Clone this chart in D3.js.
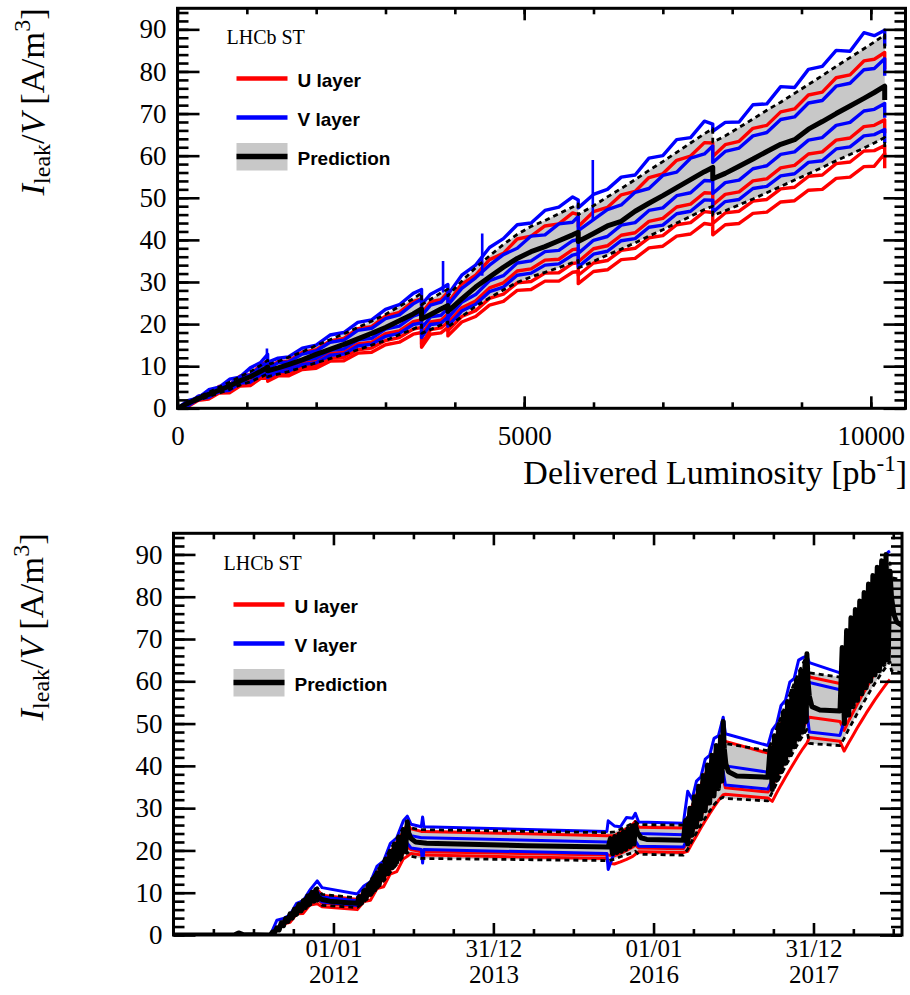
<!DOCTYPE html>
<html><head><meta charset="utf-8">
<script src="https://cdn.jsdelivr.net/npm/d3@7"></script>
<style>body{margin:0;background:#fff}svg{display:block}</style>
</head><body>
<script>
// ===================== DATA =====================
// ---- top panel: versus delivered luminosity [pb^-1]
const lumi = [0,150,300,450,600,750,900,1050,1200,1300,
  1300,1450,1600,1800,2000,2200,2400,2600,2800,3000,
  3200,3400,3520,3520,3650,3800,3900,3900,4100,4300,
  4500,4700,4900,5100,5300,5500,5700,5780,5780,6000,
  6200,6400,6600,6800,7000,7200,7400,7600,7720,7720,
  7900,8100,8300,8500,8700,8900,9100,9300,9500,9700,
  9900,10050,10200,10200];
const predCentralLumi = [0,1.2,2.3,3.3,4.3,5.3,6.5,7.5,8.8,9.8,
  8.9,9.6,10.4,11.5,12.8,14.0,15.2,16.5,17.8,19.2,
  20.8,22.4,23.6,21.2,22.3,23.6,24.4,23.0,26.0,28.8,
  31.2,33.5,35.6,37.2,38.4,39.8,41.2,41.8,39.6,41.5,
  43.3,44.4,46.8,48.7,50.5,52.4,54.3,56.2,57.2,54.5,
  55.8,57.5,59.2,61.0,62.7,63.8,66.3,68.1,70.0,71.8,
  73.6,75.0,76.5,73.2];
const predUpperLumi = [0,1.4,2.7,3.8,5.0,6.2,7.5,8.7,10.2,11.4,
  10.4,11.1,12.1,13.4,14.9,16.3,17.7,19.2,20.7,22.3,
  24.2,26.0,27.4,24.6,25.9,27.4,28.3,26.7,30.2,33.4,
  36.2,38.9,41.3,43.2,44.6,46.2,47.8,48.5,46.0,48.1,
  50.2,52.2,54.3,56.5,58.6,60.8,63.0,65.2,66.4,63.2,
  64.7,66.7,68.7,70.8,72.7,74.8,76.9,79.0,81.2,83.3,
  85.4,87.0,88.7,85.0];
const predLowerLumi = [0,1.0,1.9,2.8,3.6,4.5,5.5,6.3,7.4,8.2,
  7.5,8.1,8.7,9.7,10.8,11.8,12.8,13.9,15.0,16.1,
  17.5,18.8,19.8,17.8,18.7,19.8,20.5,19.3,21.8,24.2,
  26.2,28.1,29.9,31.2,32.3,33.4,34.6,35.1,33.3,34.9,
  36.4,37.8,39.3,40.9,42.4,44.0,45.6,47.2,48.0,45.8,
  46.9,48.3,49.7,51.2,52.7,54.2,55.7,57.2,58.8,60.3,
  61.8,63.0,64.3,61.8];
const vLayer1Lumi = [0,1.8,2.5,4.4,5.0,6.9,7.4,9.6,10.9,12.8,
  10.9,11.9,12.2,14.3,15.0,17.4,18.0,20.4,21.0,23.5,
  24.6,27.3,28.2,24.6,27.1,28.4,29.4,27.0,31.6,34.0,
  38.2,40.3,43.6,44.0,47.0,47.8,50.2,49.5,47.6,50.8,
  52.0,54.9,55.4,59.4,60.0,63.8,64.3,68.2,67.5,65.8,
  67.9,68.0,72.1,72.3,76.4,76.2,80.5,81.2,85.0,84.8,
  89.2,88.5,89.8,86.0];
const vLayer2Lumi = [0,1.1,2.9,3.4,5.0,5.5,7.5,7.9,10.0,11.0,
  9.4,10.8,11.0,12.9,13.6,15.7,16.2,18.5,19.0,21.3,
  22.2,24.8,25.9,22.0,24.5,25.2,26.9,24.5,28.5,31.0,
  34.0,36.5,38.0,40.9,41.2,43.8,44.2,45.6,42.2,44.8,
  47.2,48.3,51.3,52.2,55.3,56.1,59.4,60.4,62.3,58.4,
  61.0,61.8,64.7,65.5,68.6,69.2,72.5,73.1,76.5,77.2,
  80.4,80.7,83.0,79.0];
const vLayer3Lumi = [0,1.3,2.0,3.5,3.9,5.5,6.0,7.6,8.1,9.8,
  8.0,9.5,9.6,11.4,11.9,13.8,14.1,16.2,16.6,18.8,
  19.5,21.9,22.6,19.0,21.7,22.1,23.7,21.4,25.2,27.0,
  30.3,31.5,34.5,35.0,37.2,37.5,39.8,40.1,36.8,39.9,
  40.8,43.5,44.1,47.0,47.6,50.5,51.2,54.1,54.0,51.0,
  53.6,54.2,56.9,57.6,60.3,60.9,63.7,64.3,67.2,67.9,
  70.6,71.0,72.4,69.0];
const vLayer4Lumi = [0,0.6,2.2,2.6,4.0,4.3,6.0,6.2,8.0,8.2,
  7.3,8.7,8.8,10.4,10.8,12.6,12.9,14.8,15.2,17.1,
  17.8,19.9,20.3,16.8,19.9,20.2,21.7,19.5,23.1,24.7,
  27.7,28.8,31.6,32.1,34.0,34.3,36.4,36.7,33.6,36.6,
  37.3,39.8,40.3,43.0,43.5,46.2,46.8,49.5,49.4,46.6,
  49.1,49.6,52.2,52.7,55.2,55.7,58.4,58.8,61.6,62.1,
  64.7,65.0,66.2,63.0];
const uLayer1Lumi = [0,1.0,2.8,3.4,5.2,5.6,7.6,8.0,10.3,11.2,
  9.5,11.1,11.2,13.3,13.9,16.0,16.6,18.9,19.4,21.9,
  22.8,25.4,26.0,22.5,25.3,25.8,27.6,25.0,29.5,31.6,
  35.3,36.8,40.2,40.9,43.3,43.8,46.4,46.0,43.2,46.7,
  47.7,50.7,51.5,54.8,55.7,58.9,59.9,63.1,63.0,59.8,
  62.6,63.4,66.5,67.2,70.4,71.1,74.4,75.1,78.5,79.2,
  82.5,82.9,84.5,80.5];
const uLayer2Lumi = [0,0.8,2.3,2.7,4.2,4.5,6.2,6.4,8.3,8.5,
  7.6,9.0,9.1,10.8,11.2,13.0,13.3,15.3,15.7,17.7,
  18.4,20.6,21.0,17.5,20.5,20.9,22.4,20.2,23.9,25.5,
  28.6,29.8,32.6,33.1,35.2,35.4,37.7,37.9,34.8,37.9,
  38.6,41.1,41.7,44.4,45.1,47.8,48.5,51.2,51.1,48.3,
  50.8,51.4,54.0,54.5,57.1,57.7,60.4,60.9,63.7,64.2,
  66.9,67.2,68.5,65.3];
const uLayer3Lumi = [0,0.7,2.1,2.4,3.8,4.0,5.6,5.8,7.5,7.7,
  6.9,8.2,8.2,9.8,10.2,11.9,12.1,13.9,14.3,16.1,
  16.8,18.8,19.2,15.2,18.7,19.1,20.4,18.4,21.8,23.2,
  26.1,27.1,29.8,30.1,32.1,32.2,34.4,34.6,31.6,34.5,
  35.1,37.5,38.0,40.5,41.0,43.6,44.1,46.7,46.5,43.9,
  46.4,46.8,49.2,49.6,52.1,52.5,55.1,55.4,58.1,58.5,
  61.1,61.2,62.4,59.5];
const uLayer4Lumi = [0,0.4,1.9,2.2,3.6,3.7,5.3,5.4,7.1,7.2,
  6.4,7.7,7.7,9.2,9.5,11.2,11.3,13.1,13.3,15.1,
  15.7,17.6,18.0,14.5,17.6,17.9,19.2,17.2,20.5,21.8,
  24.5,25.4,28.0,28.2,30.2,30.2,32.3,32.5,29.6,32.5,
  32.9,35.3,35.6,38.1,38.5,40.9,41.4,43.9,43.6,41.2,
  43.6,43.9,46.3,46.6,49.0,49.3,51.8,52.0,54.6,54.9,
  57.4,57.5,60.5,57.0];
// isolated single-reading spikes of V-layer sectors (luminosity, from, to)
const vSpikeLumi = [1290, 3830, 4395, 5990];
const vSpikeFrom = [11.5, 27.5, 31.5, 44.5];
const vSpikeTo   = [14.2, 35.0, 41.5, 59.0];

// ---- bottom panel: versus date
const layerDates = [
  "2010-01-01","2010-10-05","2010-10-25","2010-11-15","2011-03-19",
  "2011-04-18","2011-05-18","2011-06-17","2011-07-17","2011-08-16","2011-09-15","2011-10-19",
  "2011-11-10","2012-04-19",
  "2012-05-19","2012-06-18","2012-07-18","2012-08-17","2012-09-16","2012-10-16","2012-11-15","2012-12-03",
  "2012-12-20","2013-02-05","2013-02-11","2013-02-17","2015-06-02","2015-06-08",
  "2015-07-06","2015-08-03","2015-08-31","2015-09-28","2015-10-10",
  "2015-10-25","2016-05-16",
  "2016-06-05","2016-06-25","2016-07-15","2016-08-04","2016-08-24","2016-09-13","2016-10-03","2016-10-23","2016-11-14",
  "2016-11-24","2017-06-06",
  "2017-06-26","2017-07-16","2017-08-05","2017-08-25","2017-09-14","2017-10-04","2017-10-24","2017-11-13","2017-12-01",
  "2017-12-12","2018-05-01",
  "2018-05-20","2018-06-09","2018-06-29","2018-07-19","2018-08-08","2018-08-28","2018-09-17","2018-10-07","2018-10-27","2018-11-16","2018-12-06","2018-12-15",
  "2018-12-22","2019-02-08"];
const vLayer1Time = [0,0,0.6,0.1,0, 3.5,3.9,4.8,7.5,8.1,10.6,12.8, 11.2,9.7,
  11.6,12.6,16.3,17.5,21.6,23.0,27.0,28.1, 26.2,25.6,27.9,25.6,24.5,27.0,
  25.8,25.6,27.8,27.6,28.8, 26.7,26.4,
  34.0,32.1,36.4,37.4,41.6,42.5,46.5,47.1,51.5, 47.6,44.8,
  48.5,49.9,54.3,55.5,59.8,60.7,65.0,65.6,66.0, 64.4,62.0,
  66.5,67.6,72.2,73.0,77.4,78.2,82.5,83.0,87.0,87.4,90.5,90.8, null,null];
const uLayer1Time = [0,0,0.6,0.1,0, 1.5,3.1,4.8,6.3,7.9,9.3,10.8, 9.4,8.4,
  10.2,12.2,14.4,16.9,19.4,22.0,24.4,26.2, 25.1,24.5,24.5,24.5,23.5,23.5,
  23.5,24.3,25.2,26.2,26.9, 25.5,25.3,
  27.8,30.5,33.1,35.5,38.0,40.3,42.5,44.6,46.6, 45.8,43.0,
  44.4,47.2,49.8,52.4,54.9,57.4,59.7,61.9,63.8, 61.0,59.5,
  61.1,63.8,66.4,68.8,71.3,73.6,75.9,78.1,80.3,82.3,84.1,84.9, null,null];
const vLayer2Time = [0,0,0.5,0.1,0, 1.4,3.0,4.5,6.0,7.5,8.9,10.3, 9.0,8.1,
  9.8,11.7,13.8,16.1,18.6,21.0,23.3,25.0, 23.5,23.0,23.0,23.0,22.0,22.0,
  22.5,23.2,24.1,25.0,25.7, 24.0,23.7,
  26.5,29.2,31.6,33.9,36.3,38.5,40.6,42.6,44.5, 40.0,38.5,
  42.4,45.1,47.6,50.0,52.5,54.8,57.0,59.1,61.0, 59.7,58.0,
  58.3,61.0,63.4,65.7,68.1,70.3,72.5,74.6,76.6,78.5,80.3,81.1, null,null];
const vLayer3Time = [0,0,0.5,0.1,0, 1.2,2.6,3.9,5.3,6.5,7.7,8.9, 7.8,7.0,
  8.5,10.1,12.0,14.0,16.1,18.2,20.2,21.7, 20.6,20.2,17.0,20.2,19.3,15.5,
  19.5,20.1,20.9,21.7,22.3, 21.0,20.8,
  23.0,25.3,27.4,29.4,31.5,33.4,35.2,37.0,38.6, 35.5,34.5,
  36.8,39.1,41.3,43.4,45.5,47.6,49.5,51.3,52.9, 48.0,47.2,
  50.6,52.9,55.0,57.0,59.1,61.0,62.9,64.8,66.5,68.2,69.7,70.4, null,null];
const uLayer2Time = [0,0,0.4,0.1,0, 1.1,2.4,3.8,5.0,6.2,7.4,8.5, 7.5,6.7,
  8.1,9.7,11.4,13.4,15.4,17.4,19.4,20.8, 20.2,19.7,19.7,19.7,18.9,18.9,
  18.7,19.3,20.0,20.8,21.3, 20.6,20.4,
  22.0,24.2,26.2,28.2,30.1,31.9,33.7,35.4,37.0, 34.8,33.8,
  35.2,37.4,39.5,41.5,43.6,45.5,47.3,49.1,50.6, 51.5,50.5,
  48.4,50.6,52.6,54.6,56.5,58.3,60.2,62.0,63.6,65.2,66.7,67.3, null,null];
const uLayer3Time = [0,0,0.4,0.1,0, 1.0,2.6,3.0,5.0,5.1,7.1,7.4, 6.7,6.0,
  7.9,8.2,11.0,11.4,14.4,15.0,18.0,18.6, 19.3,18.9,18.9,18.9,18.1,17.0,
  16.8,17.3,17.9,18.6,19.1, 19.7,19.5,
  19.8,21.7,23.5,25.3,27.0,28.7,30.3,31.8,33.2, 33.3,32.4,
  31.6,33.6,35.5,37.3,39.1,40.8,42.5,44.1,45.4, 46.7,45.8,
  43.5,45.4,47.2,49.0,50.7,52.4,54.0,55.6,57.1,58.5,59.9,60.4, null,null];
const predUpperTime = [0,0,0.6,0.1,0, 1.5,3.2,4.9,6.6,8.2,9.7,11.2, 9.6,8.8,
  10.6,12.7,15.0,17.5,20.1,22.8,25.3,26.5, 25.3,24.9,24.9,24.9,24.2,24.2,
  24.4,25.0,25.7,26.4,26.8, 26.1,26.0,
  28.0,30.5,32.8,35.0,37.2,39.3,41.3,43.2,44.8, 45.3,43.6,
  46.0,48.9,51.6,54.3,56.9,59.5,61.9,64.2,66.1, 62.0,61.0,
  63.3,66.1,68.8,71.3,73.8,76.2,78.7,81.0,83.1,85.2,87.2,88.0, 84.5,84.0];
const predLowerTime = [0,0,0.4,0.1,0, 1.1,2.4,3.6,4.8,6.0,7.1,8.2, 7.0,6.5,
  7.8,9.3,11.0,12.8,14.8,16.7,18.6,19.6, 18.6,18.1,18.1,18.1,17.6,17.6,
  17.9,18.5,19.0,19.5,19.8, 19.1,18.9,
  20.3,22.3,24.2,26.0,27.7,29.3,30.8,32.0,32.6, 32.3,31.7,
  33.8,35.9,37.9,39.9,41.8,43.7,45.5,47.2,48.6, 45.3,44.8,
  46.5,48.6,50.5,52.4,54.2,56.0,57.8,59.5,61.1,62.6,64.0,64.6, 62.5,62.0];
// central prediction (fluctuating during data taking)
const predCentralTime = [
  ["2010-01-01",0],["2010-10-05",0],["2010-10-25",0.5],["2010-11-15",0.1],["2011-03-19",0],
  ["2011-03-29",0.7],["2011-04-08",0.6],["2011-04-18",1.7],["2011-04-28",1.2],["2011-05-08",2.9],
  ["2011-05-18",2.2],["2011-05-28",3.9],["2011-06-07",3.2],["2011-06-17",5.0],["2011-06-27",4.0],
  ["2011-07-07",6.1],["2011-07-17",4.9],["2011-07-27",7.2],["2011-08-06",5.7],["2011-08-16",8.1],
  ["2011-08-26",6.5],["2011-09-05",9.2],["2011-09-15",7.3],["2011-09-25",10.1],["2011-10-05",8.0],
  ["2011-10-12",10.7],["2011-10-19",9.5],
  ["2011-10-26",8.9],["2011-11-10",8.4],["2011-12-15",8.0],["2012-02-20",7.7],["2012-04-19",7.5],
  ["2012-04-29",9.1],["2012-05-09",7.6],["2012-05-19",10.4],["2012-05-29",8.6],["2012-06-08",11.7],
  ["2012-06-18",9.6],["2012-06-28",13.2],["2012-07-08",10.7],["2012-07-18",14.7],["2012-07-28",11.9],
  ["2012-08-07",16.4],["2012-08-17",13.2],["2012-08-27",18.0],["2012-09-06",14.5],["2012-09-16",19.8],
  ["2012-09-26",15.9],["2012-10-06",21.5],["2012-10-16",17.2],["2012-10-26",23.2],["2012-11-05",18.5],
  ["2012-11-15",24.9],["2012-11-25",19.8],["2012-12-03",26.8],
  ["2012-12-10",24.0],["2012-12-20",22.8],["2013-01-10",22.0],["2013-03-01",21.7],["2014-06-01",21.1],
  ["2015-06-08",20.8],
  ["2015-06-18",22.8],["2015-06-28",19.2],["2015-07-08",23.3],["2015-07-18",19.5],["2015-07-28",23.9],
  ["2015-08-07",19.8],["2015-08-17",24.4],["2015-08-27",20.3],["2015-09-06",25.1],["2015-09-16",20.9],
  ["2015-09-26",25.8],["2015-10-04",21.5],["2015-10-10",26.0],
  ["2015-10-20",24.2],["2015-11-05",23.0],["2015-12-01",22.6],["2016-05-16",22.4],
  ["2016-05-26",27.0],["2016-06-05",21.5],["2016-06-15",30.0],["2016-06-25",23.6],["2016-07-05",32.7],
  ["2016-07-15",25.6],["2016-07-25",35.2],["2016-08-04",27.5],["2016-08-14",37.7],["2016-08-24",29.4],
  ["2016-09-03",40.2],["2016-09-13",31.2],["2016-09-23",42.5],["2016-10-03",32.9],["2016-10-13",44.8],
  ["2016-10-23",34.6],["2016-11-02",46.9],["2016-11-08",36.4],["2016-11-14",50.5],
  ["2016-11-19",44.0],["2016-11-26",40.5],["2016-12-08",38.6],["2017-01-15",37.6],["2017-06-06",37.3],
  ["2017-06-16",44.2],["2017-06-26",34.4],["2017-07-06",47.1],["2017-07-16",36.6],["2017-07-26",49.8],
  ["2017-08-05",38.6],["2017-08-15",52.6],["2017-08-25",40.6],["2017-09-04",55.2],["2017-09-14",42.6],
  ["2017-09-24",57.7],["2017-10-04",44.5],["2017-10-14",60.2],["2017-10-24",46.3],["2017-11-03",62.5],
  ["2017-11-13",48.0],["2017-11-23",64.6],["2017-11-28",50.5],["2017-12-01",66.5],
  ["2017-12-06",60.0],["2017-12-12",56.5],["2017-12-24",54.0],["2018-01-29",53.2],["2018-05-01",53.0],
  ["2018-05-11",68.0],["2018-05-21",50.0],["2018-05-31",72.0],["2018-06-10",52.0],["2018-06-20",75.0],
  ["2018-06-30",54.0],["2018-07-10",77.0],["2018-07-20",55.5],["2018-07-30",79.0],["2018-08-09",57.0],
  ["2018-08-19",81.0],["2018-08-29",58.5],["2018-09-08",83.0],["2018-09-18",60.0],["2018-09-28",85.0],
  ["2018-10-08",61.5],["2018-10-18",87.0],["2018-10-28",62.5],["2018-11-07",88.5],["2018-11-17",64.0],
  ["2018-11-27",90.0],["2018-12-07",65.0],["2018-12-15",86.0],
  ["2018-12-22",80.0],["2019-01-02",75.8],["2019-01-15",74.0],["2019-02-08",73.2]];

// ---- ticks and labels
const yMajorTicks = [0,10,20,30,40,50,60,70,80,90];
const lumiMajorTicks = [0,5000,10000];
const dateMajorTicks = ["2012-01-01","2013-12-31","2016-01-01","2017-12-31"];
const dateTickLabels = [["01/01","2012"],["31/12","2013"],["01/01","2016"],["31/12","2017"]];
const dateMinorTicks = ["2010-07-02","2011-01-01","2011-07-02","2012-07-01","2012-12-31","2013-07-01",
  "2014-07-02","2014-12-31","2015-07-01","2016-07-01","2016-12-30","2017-07-01","2018-07-01","2018-12-30"];
const legendLabels = ["U layer","V layer","Prediction"];
const experimentLabel = "LHCb ST";

// ===================== DRAWING =====================
const SERIF = "'Liberation Serif','Times New Roman',Times,serif";
const SANS = "'Liberation Sans',Arial,Helvetica,sans-serif";
const RED = "#ff0000", BLUE = "#0000ff", GREY = "#c8c8c8";
const parse = d3.utcParse("%Y-%m-%d");

const svg = d3.select("body").append("svg").attr("width",910).attr("height",995);
const defs = svg.append("defs");

function drawPanel(o) {
  const {box, x, y} = o;
  const clipId = "clip-" + o.id;
  defs.append("clipPath").attr("id", clipId).append("rect")
    .attr("x", box.left).attr("y", box.top)
    .attr("width", box.right - box.left).attr("height", box.bottom - box.top);
  const plot = svg.append("g").attr("clip-path", `url(#${clipId})`);
  const idx = d3.range(o.xs.length);
  plot.append("path").datum(idx)
    .attr("d", d3.area().defined(i => o.up[i] != null)
      .x(i => x(o.xs[i])).y0(i => y(o.lo[i])).y1(i => y(o.up[i])))
    .attr("fill", GREY);
  const mk = vals => d3.line().defined(i => vals[i] != null).x(i => x(o.xs[i])).y(i => y(vals[i]));
  const drawLine = (vals, color, w, dash) => plot.append("path").datum(idx).attr("d", mk(vals))
    .attr("fill","none").attr("stroke",color).attr("stroke-width",w)
    .attr("stroke-linejoin","round").attr("stroke-dasharray", dash || null);
  o.uLines.forEach(v => drawLine(v, RED, o.lw));
  o.vLines.forEach(v => drawLine(v, BLUE, o.lw));
  if (o.spikes) {
    plot.selectAll("line.spike").data(d3.range(o.spikes.at.length)).join("line")
      .attr("x1", i => x(o.spikes.at[i])).attr("x2", i => x(o.spikes.at[i]))
      .attr("y1", i => y(o.spikes.from[i])).attr("y2", i => y(o.spikes.to[i]))
      .attr("stroke", BLUE).attr("stroke-width", 2.6);
  }
  const cIdx = d3.range(o.cx.length);
  plot.append("path").datum(cIdx)
    .attr("d", d3.line().x(i => x(o.cx[i])).y(i => y(o.cy[i])))
    .attr("fill","none").attr("stroke","#000").attr("stroke-width",o.cw).attr("stroke-linejoin","round");
  drawLine(o.up, "#000", 2.8, "5,4");
  drawLine(o.lo, "#000", 2.8, "5,4");
}

function styleAxis(sel) {
  sel.select(".domain").remove();
  sel.selectAll("line").attr("stroke","#000").attr("stroke-width",2.6);
  sel.attr("font-family",SERIF).attr("font-size",27);
  sel.selectAll("text").attr("fill","#000").style("font-family",SERIF).style("font-size","27px");
}

function drawAxes(o) {
  const {box, y} = o;
  const g = svg.append("g");
  const yMinor = d3.range(0, 95, 2);
  g.append("g").attr("transform",`translate(${box.left},0)`)
    .call(d3.axisLeft(y).tickValues(yMajorTicks).tickSize(-22).tickPadding(11).tickFormat(d3.format("d"))).call(styleAxis);
  g.append("g").attr("transform",`translate(${box.left},0)`)
    .call(d3.axisLeft(y).tickValues(yMinor).tickSize(-11).tickFormat("")).call(styleAxis);
  g.append("g").attr("transform",`translate(${box.right},0)`)
    .call(d3.axisRight(y).tickValues(yMajorTicks).tickSize(-22).tickFormat("")).call(styleAxis);
  g.append("g").attr("transform",`translate(${box.right},0)`)
    .call(d3.axisRight(y).tickValues(yMinor).tickSize(-11).tickFormat("")).call(styleAxis);
  o.xAxes(g);
  g.append("rect").attr("x",box.left).attr("y",box.top)
    .attr("width",box.right-box.left).attr("height",box.bottom-box.top)
    .attr("fill","none").attr("stroke","#000").attr("stroke-width",3);
}

function yTitle(xb, yTop) {
  const t = svg.append("text").attr("transform",`translate(${xb},${yTop}) rotate(-90)`)
    .attr("text-anchor","end").attr("font-family",SERIF).attr("font-size",34.5).attr("fill","#000");
  t.append("tspan").attr("font-style","italic").text("I");
  t.append("tspan").attr("font-size",24).attr("dy",6).text("leak");
  t.append("tspan").attr("dy",-6).text("/");
  t.append("tspan").attr("font-style","italic").text("V");
  t.append("tspan").text(" [A/m");
  t.append("tspan").attr("font-size",24).attr("dy",-14).text("3");
  t.append("tspan").attr("dy",14).text("]");
}

function legend(ox, oy) {
  const g = svg.append("g").attr("transform",`translate(${ox},${oy})`);
  g.append("text").attr("x",-10).attr("y",0).attr("font-family",SERIF).attr("font-size",20).text(experimentLabel);
  const items = [{c:RED},{c:BLUE},{c:"#000",band:true}];
  items.forEach((it,i) => {
    const cy = 34.5 + i*39;
    if (it.band) g.append("rect").attr("x",0).attr("y",cy-13.5).attr("width",51).attr("height",27.5).attr("fill",GREY);
    g.append("line").attr("x1",0).attr("x2",51).attr("y1",cy).attr("y2",cy)
      .attr("stroke",it.c).attr("stroke-width",it.band?5.5:4.5);
    g.append("text").attr("x",61).attr("y",cy+8.7).attr("font-family",SANS).attr("font-weight","bold")
      .attr("font-size",19).text(legendLabels[i]);
  });
}

// ---------- top panel ----------
const boxT = {left:177.5, right:905.5, top:8.3, bottom:408.3};
const xT = d3.scaleLinear().domain([0,10500]).range([boxT.left, boxT.right]);
const yT = d3.scaleLinear().domain([0,95]).range([boxT.bottom, boxT.top]);
drawPanel({id:"top", box:boxT, x:xT, y:yT, xs:lumi, up:predUpperLumi, lo:predLowerLumi,
  uLines:[uLayer4Lumi,uLayer3Lumi,uLayer2Lumi,uLayer1Lumi],
  vLines:[vLayer4Lumi,vLayer3Lumi,vLayer2Lumi,vLayer1Lumi],
  spikes:{at:vSpikeLumi, from:vSpikeFrom, to:vSpikeTo},
  cx:lumi, cy:predCentralLumi, cw:5, lw:3.4});
drawAxes({box:boxT, y:yT, xAxes: g => {
  g.append("g").attr("transform",`translate(0,${boxT.bottom})`)
    .call(d3.axisBottom(xT).tickValues(lumiMajorTicks).tickSize(-12).tickPadding(18).tickFormat(d3.format("d"))).call(styleAxis);
  g.append("g").attr("transform",`translate(0,${boxT.bottom})`)
    .call(d3.axisBottom(xT).tickValues(d3.range(0,10501,1000)).tickSize(-6).tickFormat("")).call(styleAxis);
  g.append("g").attr("transform",`translate(0,${boxT.top})`)
    .call(d3.axisTop(xT).tickValues(lumiMajorTicks).tickSize(-12).tickFormat("")).call(styleAxis);
  g.append("g").attr("transform",`translate(0,${boxT.top})`)
    .call(d3.axisTop(xT).tickValues(d3.range(0,10501,1000)).tickSize(-6).tickFormat("")).call(styleAxis);
}});
yTitle(44, 8.3);
{
  const t = svg.append("text").attr("x",907).attr("y",484).attr("text-anchor","end")
    .attr("font-family",SERIF).attr("font-size",34).attr("fill","#000");
  t.append("tspan").text("Delivered Luminosity [pb");
  t.append("tspan").attr("font-size",23).attr("dy",-13).text("-1");
  t.append("tspan").attr("dy",13).text("]");
}
legend(236.5, 44);

// ---------- bottom panel ----------
const boxB = {left:173.5, right:902, top:533.3, bottom:935};
const xB = d3.scaleUtc().domain([parse("2010-01-01"), parse("2019-02-08")]).range([boxB.left, boxB.right]);
const yB = d3.scaleLinear().domain([0,95]).range([boxB.bottom, boxB.top]);
drawPanel({id:"bot", box:boxB, x:xB, y:yB, xs:layerDates.map(parse), up:predUpperTime, lo:predLowerTime,
  uLines:[uLayer3Time,uLayer2Time,uLayer1Time],
  vLines:[vLayer3Time,vLayer2Time,vLayer1Time],
  cx:predCentralTime.map(d => parse(d[0])), cy:predCentralTime.map(d => d[1]), cw:5, lw:3});
drawAxes({box:boxB, y:yB, xAxes: g => {
  const ax = g.append("g").attr("transform",`translate(0,${boxB.bottom})`)
    .call(d3.axisBottom(xB).tickValues(dateMajorTicks.map(parse)).tickSize(-12).tickFormat(""))
    .call(styleAxis);
  ax.selectAll(".tick text").remove();
  ax.selectAll(".tick").each(function(d,i){
    const t = d3.select(this).append("text").attr("fill","#000").attr("text-anchor","middle")
      .style("font-family",SERIF).style("font-size","25px");
    t.append("tspan").attr("x",0).attr("y",22).text(dateTickLabels[i][0]);
    t.append("tspan").attr("x",0).attr("y",48).text(dateTickLabels[i][1]);
  });
  g.append("g").attr("transform",`translate(0,${boxB.bottom})`)
    .call(d3.axisBottom(xB).tickValues(dateMinorTicks.map(parse)).tickSize(-6).tickFormat("")).call(styleAxis);
  g.append("g").attr("transform",`translate(0,${boxB.top})`)
    .call(d3.axisTop(xB).tickValues(dateMajorTicks.map(parse)).tickSize(-12).tickFormat("")).call(styleAxis);
  g.append("g").attr("transform",`translate(0,${boxB.top})`)
    .call(d3.axisTop(xB).tickValues(dateMinorTicks.map(parse)).tickSize(-6).tickFormat("")).call(styleAxis);
}});
yTitle(43, 533.3);
legend(233.5, 570);
</script>
</body></html>
